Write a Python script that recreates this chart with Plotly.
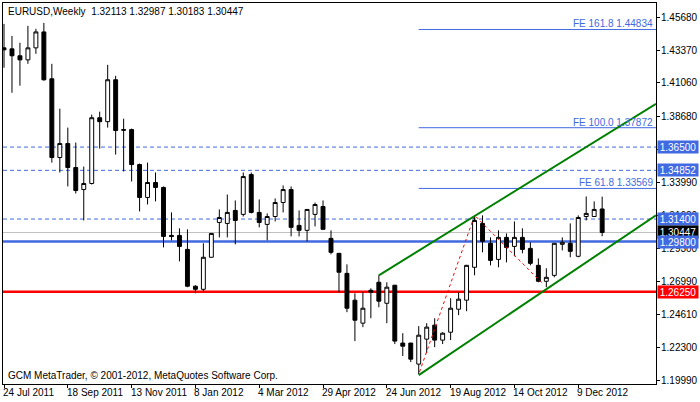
import plotly.graph_objects as go

dates = ["24 Jul 2011", "18 Sep 2011", "13 Nov 2011", "8 Jan 2012", "4 Mar 2012",
         "29 Apr 2012", "24 Jun 2012", "19 Aug 2012", "14 Oct 2012", "9 Dec 2012"]
date_idx = [0, 8, 16, 24, 32, 40, 48, 56, 64, 72]

opens = [1.4353,1.4346,1.4297,1.4268,1.4353,1.4466,1.4134,1.3576,1.3675,1.3505,
         1.3349,1.3392,1.3858,1.3830,1.4127,1.3774,1.3774,1.3526,1.3293,1.3399,
         1.3364,1.3024,1.3024,1.2925,1.2664,1.2642,1.2869,1.3116,1.3109,1.3201,
         1.3173,1.3455,1.3187,1.3102,1.3158,1.3257,1.3349,1.3095,1.3060,1.3173,
         1.3229,1.3003,1.2897,1.2755,1.2565,1.2402,1.2635,1.2692,1.2543,1.2671,
         1.2261,1.2261,1.2112,1.2289,1.2388,1.2282,1.2338,1.2501,1.2565,1.2798,
         1.3109,1.2968,1.2854,1.3010,1.2946,1.3010,1.2932,1.2812,1.2699,1.2741,
         1.2961,1.2968,1.2876,1.3158,1.3158,1.32113]
highs = [1.4523,1.4438,1.4389,1.4509,1.4488,1.4530,1.4240,1.3922,1.3788,1.3682,
         1.3512,1.3880,1.3901,1.4233,1.4155,1.3851,1.3781,1.3533,1.3540,1.3470,
         1.3371,1.3187,1.3074,1.3067,1.2671,1.2968,1.3040,1.3208,1.3314,1.3272,
         1.3470,1.3470,1.3279,1.3180,1.3286,1.3378,1.3371,1.3201,1.3210,1.3257,
         1.3272,1.3060,1.2900,1.2819,1.2614,1.2621,1.2649,1.2741,1.2692,1.2673,
         1.2331,1.2263,1.2381,1.2402,1.2437,1.2338,1.2579,1.2621,1.2815,1.3158,
         1.3166,1.3010,1.3060,1.3038,1.3123,1.3074,1.2975,1.2861,1.2791,1.2970,
         1.3010,1.3109,1.3166,1.3300,1.3265,1.32987]
lows = [1.4212,1.4035,1.4085,1.4240,1.4311,1.4120,1.3540,1.3470,1.3371,1.3321,
        1.3130,1.3385,1.3639,1.3788,1.3597,1.3477,1.3406,1.3194,1.3243,1.3265,
        1.2939,1.2989,1.2840,1.2657,1.2614,1.2628,1.2867,1.3010,1.3010,1.2961,
        1.3158,1.3180,1.3081,1.2989,1.3123,1.3187,1.3017,1.3017,1.2982,1.3088,
        1.3065,1.2890,1.2621,1.2480,1.2275,1.2374,1.2437,1.2515,1.2402,1.2254,
        1.2169,1.2126,1.2041,1.2190,1.2232,1.2254,1.2282,1.2459,1.2487,1.2741,
        1.2904,1.2812,1.2798,1.2833,1.2876,1.2897,1.2812,1.2692,1.2657,1.2727,
        1.2918,1.2869,1.2869,1.3130,1.3156,1.30183]
closes = [1.4339,1.4297,1.4268,1.4353,1.4466,1.4127,1.3576,1.3675,1.3505,1.3342,
          1.3392,1.3858,1.3830,1.4127,1.3767,1.3770,1.3526,1.3293,1.3399,1.3364,
          1.3017,1.3017,1.2946,1.2664,1.2642,1.2869,1.3038,1.3151,1.3187,1.3130,
          1.3441,1.3187,1.3116,1.3158,1.3257,1.3349,1.3081,1.3060,1.3208,1.3243,
          1.3067,1.2904,1.2763,1.2508,1.2423,1.2508,1.2621,1.2558,1.2657,1.2275,
          1.2239,1.2147,1.2317,1.2374,1.2282,1.2331,1.2508,1.2572,1.2812,1.3130,
          1.2982,1.2847,1.3010,1.2939,1.3010,1.2925,1.2826,1.2699,1.2727,1.2968,
          1.2975,1.2911,1.3151,1.3180,1.3208,1.30447]

dashed_levels = [1.36500, 1.34852, 1.31400]
support_level = 1.29800
red_level = 1.26250
last_price = 1.30447
fe_levels = [1.44834, 1.37872, 1.33569]
fe_names = ["FE 161.8", "FE 100.0", "FE 61.8"]
fe_start = 52
upper_channel_x = [47, 81.75]
upper_channel_y = [1.2741, 1.3957]
lower_channel_x = [52, 81.75]
lower_channel_y = [1.2034, 1.3166]
zigzag_x = [52.1, 59, 67.5]
zigzag_y = [1.2056, 1.3166, 1.2685]
ytick_vals = [1.45680, 1.43370, 1.41060, 1.38680, 1.36300, 1.33990, 1.31680,
              1.29300, 1.26990, 1.24610, 1.22300, 1.19990]
ytick_text = ["1.45680", "1.43370", "1.41060", "1.38680", "", "1.33990", "1.31680",
              "1.29300", "1.26990", "1.24610", "1.22300", "1.19990"]

BLUE = "#4169E1"
FONT = "Liberation Sans"
FS = 10
xs = list(range(len(opens)))
XMAX = 81.75

fig = go.Figure()
fig.add_trace(go.Candlestick(
    x=xs, open=opens, high=highs, low=lows, close=closes,
    increasing=dict(line=dict(color="black", width=1), fillcolor="white"),
    decreasing=dict(line=dict(color="black", width=1), fillcolor="black"),
    whiskerwidth=0, hoverinfo="skip", showlegend=False))

shapes = []
for lv in dashed_levels:
    shapes.append(dict(type="line", xref="paper", yref="y", x0=0, x1=1, y0=lv, y1=lv,
                       line=dict(color=BLUE, width=1, dash="4px,3px"), layer="below"))
shapes.append(dict(type="line", xref="paper", yref="y", x0=0, x1=1, y0=last_price, y1=last_price,
                   line=dict(color="#C0C0C0", width=1), layer="below"))
shapes.append(dict(type="line", xref="paper", yref="y", x0=0, x1=1, y0=support_level, y1=support_level,
                   line=dict(color=BLUE, width=2.5), layer="below"))
shapes.append(dict(type="line", xref="paper", yref="y", x0=0, x1=1, y0=red_level, y1=red_level,
                   line=dict(color="#FF0000", width=2.5), layer="below"))
for lv in fe_levels:
    shapes.append(dict(type="line", xref="x", yref="y", x0=fe_start, x1=XMAX, y0=lv, y1=lv,
                       line=dict(color=BLUE, width=1), layer="below"))
fig.update_layout(shapes=shapes)

fig.add_trace(go.Scatter(x=zigzag_x, y=zigzag_y, mode="lines",
                         line=dict(color="#FF0000", width=1, dash="dot"), hoverinfo="skip", showlegend=False))
fig.add_trace(go.Scatter(x=upper_channel_x, y=upper_channel_y, mode="lines",
                         line=dict(color="#008000", width=2), hoverinfo="skip", showlegend=False))
fig.add_trace(go.Scatter(x=lower_channel_x, y=lower_channel_y, mode="lines",
                         line=dict(color="#008000", width=2), hoverinfo="skip", showlegend=False))

ann = []
for lv, nm in zip(fe_levels, fe_names):
    ann.append(dict(x=1, xref="paper", y=lv, yref="y", text=f"{nm} {lv:.5f}", showarrow=False,
                    xanchor="right", yanchor="bottom", xshift=-1, yshift=-2,
                    font=dict(family=FONT, size=FS, color=BLUE)))
for lv, bg in [(dashed_levels[0], BLUE), (dashed_levels[1], BLUE), (dashed_levels[2], BLUE),
               (last_price, "black"), (support_level, BLUE), (red_level, "#FF0000")]:
    ann.append(dict(x=1, xref="paper", y=lv, yref="y", text=f"{lv:.5f}", showarrow=False,
                    xanchor="left", yanchor="middle", xshift=1, width=40, height=12, align="center",
                    bgcolor=bg, borderpad=0, font=dict(family=FONT, size=FS, color="white")))
for i, d in zip(date_idx, dates):
    ann.append(dict(x=i, xref="x", y=0, yref="paper", text=d, showarrow=False,
                    xanchor="left", yanchor="top", xshift=-3, yshift=-1,
                    font=dict(family=FONT, size=FS, color="black")))
ann.append(dict(x=0, xref="paper", y=1, yref="paper", text="EURUSD,Weekly  1.32113 1.32987 1.30183 1.30447",
                showarrow=False, xanchor="left", yanchor="top", xshift=3, yshift=-1,
                font=dict(family=FONT, size=FS, color="black")))
ann.append(dict(x=0, xref="paper", y=0, yref="paper", text="GCM MetaTrader, © 2001-2012, MetaQuotes Software Corp.",
                showarrow=False, xanchor="left", yanchor="bottom", xshift=3, yshift=1,
                font=dict(family=FONT, size=FS, color="black")))

fig.update_layout(
    annotations=ann,
    width=700, height=402, margin=dict(l=2, r=43, t=2, b=18),
    paper_bgcolor="white", plot_bgcolor="white",
    xaxis=dict(range=[-0.125, XMAX], rangeslider=dict(visible=False), showgrid=False,
               zeroline=False, showline=True, mirror=True, linecolor="black", linewidth=1,
               tickvals=date_idx, ticktext=[""] * len(date_idx), ticks="outside", ticklen=3,
               tickcolor="black"),
    yaxis=dict(range=[1.1971, 1.4671], side="right", showgrid=False, zeroline=False,
               showline=True, mirror=True, linecolor="black", linewidth=1,
               tickvals=ytick_vals, ticktext=ytick_text,
               ticks="outside", ticklen=3, tickcolor="black", ticklabelstandoff=-1,
               tickfont=dict(family=FONT, size=FS, color="black")),
)
fig.write_html("out.html", config={"displayModeBar": False},
               post_script="document.body.style.margin='0';document.body.style.overflow='hidden';")
